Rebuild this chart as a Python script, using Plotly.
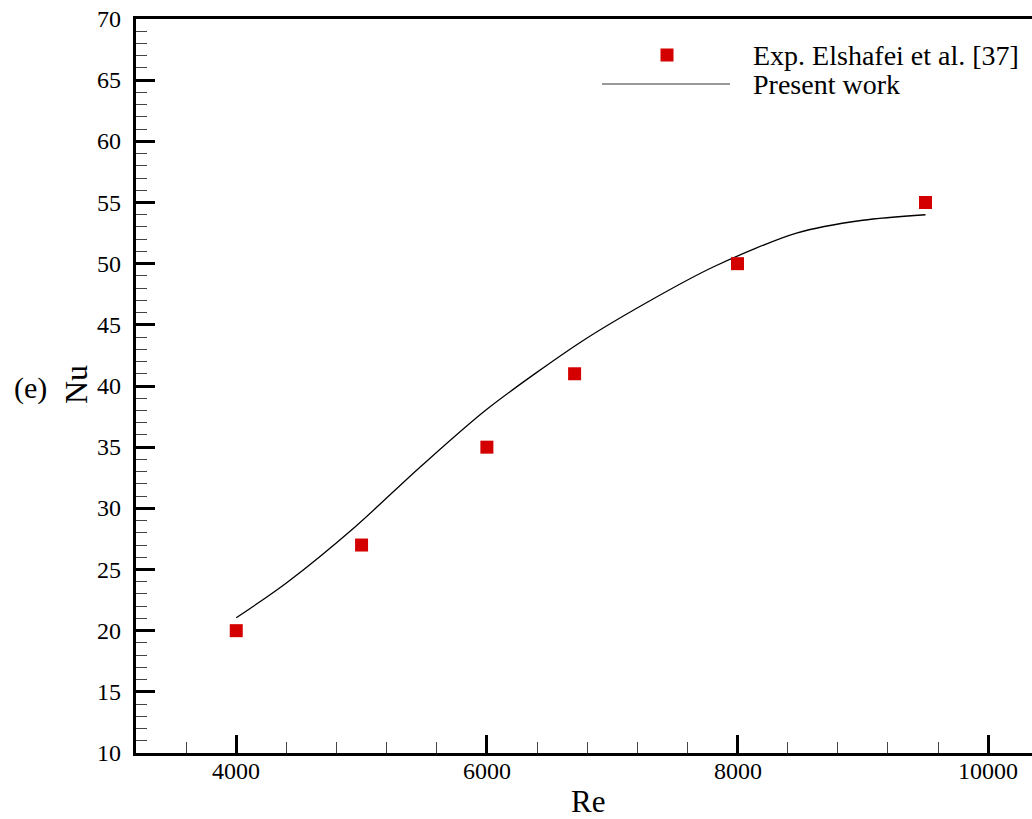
import plotly.graph_objects as go

# Experimental Nusselt numbers (Elshafei et al.)
exp_re = [4000, 5000, 6000, 6700, 8000, 9500]
exp_nu = [20, 27, 35, 41, 50, 55]

# Present numerical work
sim_re = [4000, 4400, 4950, 5470, 6000, 6750, 7280, 7810, 8470, 9000, 9500]
sim_nu = [21.05, 23.9, 28.5, 33.4, 38.1, 43.6, 46.85, 49.75, 52.5, 53.55, 54.0]

# Axis ticks
x_ticks = [4000, 6000, 8000, 10000]
x_tick_text = ["4000", "6000", "8000", "10000"]
y_ticks = [10, 15, 20, 25, 30, 35, 40, 45, 50, 55, 60, 65, 70]
y_tick_text = [str(v) for v in y_ticks]

W, H = 1032, 819
ML, MR, MT, MB = 136, 0, 19, 66
PW, PH = W - ML - MR, H - MT - MB

FONT = "Liberation Serif"
RED = "#d40000"


def px(xp):
    return (xp - ML) / PW


def py(yp):
    return 1 - (yp - MT) / PH


def text_font(size):
    return dict(family=FONT, size=size, color="black")


fig = go.Figure()

fig.add_trace(go.Scatter(
    x=sim_re, y=sim_nu, mode="lines", line_shape="spline",
    line=dict(color="black", width=1.3, smoothing=0.8), showlegend=False,
))
fig.add_trace(go.Scatter(
    x=exp_re, y=exp_nu, mode="markers",
    marker=dict(symbol="square", size=13, color=RED, line=dict(width=0)),
    showlegend=False,
))

# Tick labels set as text so they keep the Times-style face
for v, t in zip(x_ticks, x_tick_text):
    fig.add_annotation(text=t, xref="x", yref="paper", x=v, y=0, yshift=-18,
                       xanchor="center", yanchor="middle", showarrow=False,
                       font=text_font(24))
for v, t in zip(y_ticks, y_tick_text):
    fig.add_annotation(text=t, xref="paper", yref="y", x=0, y=v, xshift=-13,
                       xanchor="right", yanchor="middle", showarrow=False,
                       font=text_font(24))

# Axis titles and panel tag
fig.add_annotation(text="Re", xref="paper", yref="paper", x=px(587.5), y=py(801),
                   xanchor="center", yanchor="middle", showarrow=False, font=text_font(31))
fig.add_annotation(text="Nu", xref="paper", yref="paper", x=px(76), y=py(385),
                   xanchor="center", yanchor="middle", textangle=-90, showarrow=False,
                   font=text_font(32))
fig.add_annotation(text="(e)", xref="paper", yref="paper", x=px(30.5), y=py(388),
                   xanchor="center", yanchor="middle", showarrow=False, font=text_font(30))

# Hand-placed legend
fig.add_shape(type="rect", xref="paper", yref="paper",
              x0=px(660.5), x1=px(673.5), y0=py(61.5), y1=py(48.5),
              fillcolor=RED, line=dict(width=0))
fig.add_shape(type="line", xref="paper", yref="paper",
              x0=px(602), x1=px(730), y0=py(84), y1=py(84),
              line=dict(color="#777777", width=1.5))
for label, yc in [("Exp. Elshafei et al. [37]", 55), ("Present work", 84)]:
    fig.add_annotation(text=label, xref="paper", yref="paper",
                       x=px(751), y=py(yc), xanchor="left", yanchor="middle",
                       showarrow=False, font=text_font(28))

fig.update_layout(
    width=W, height=H,
    margin=dict(l=ML, r=MR, t=MT, b=MB, pad=0),
    paper_bgcolor="white", plot_bgcolor="white",
    font=dict(family=FONT, color="black"),
    xaxis=dict(
        range=[3200, 10350], tickvals=x_ticks, showticklabels=False,
        ticks="inside", ticklen=18, tickwidth=3, tickcolor="black",
        minor=dict(dtick=400, tick0=0, ticks="inside", ticklen=11, tickwidth=1, tickcolor="#444444"),
        showline=True, linewidth=3, linecolor="black", mirror=True,
        showgrid=False, zeroline=False,
    ),
    yaxis=dict(
        range=[10, 70], tickvals=y_ticks, showticklabels=False,
        ticks="inside", ticklen=19, tickwidth=3, tickcolor="black",
        minor=dict(dtick=1, ticks="inside", ticklen=11, tickwidth=1, tickcolor="#444444"),
        showline=True, linewidth=3, linecolor="black", mirror=False,
        showgrid=False, zeroline=False,
    ),
)

fig.write_html("out.html")
